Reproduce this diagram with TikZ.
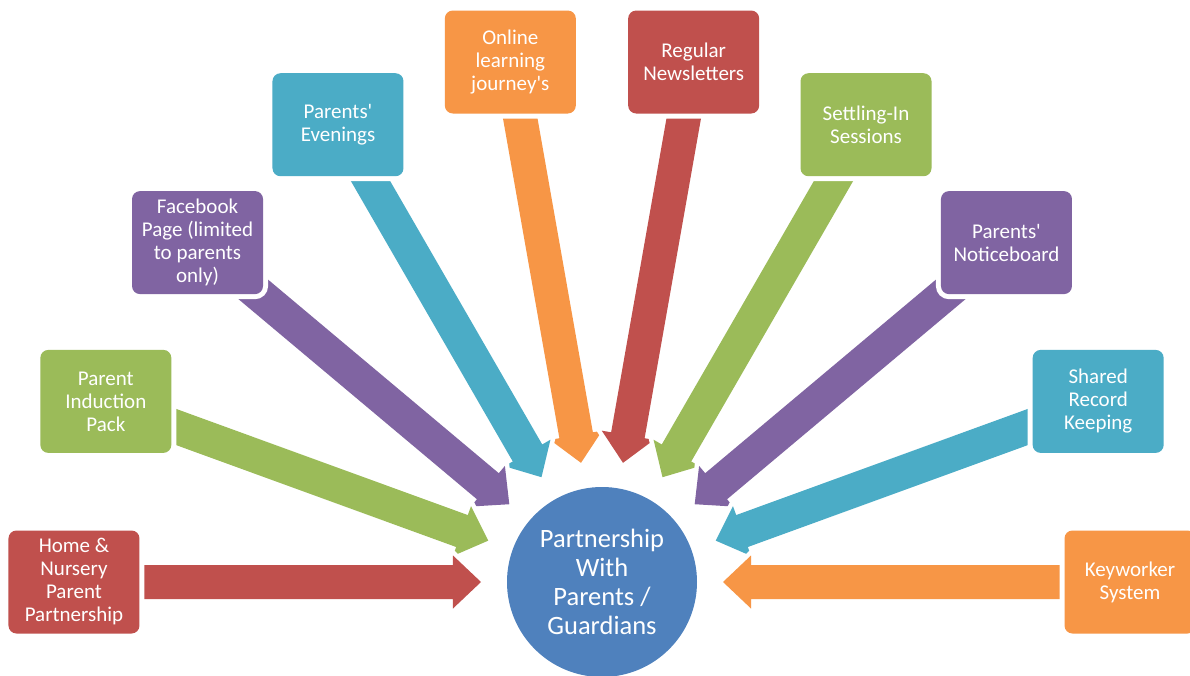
\documentclass[tikz,border=0pt]{standalone}
\usepackage{fontspec}
\setmainfont{Carlito}
\usetikzlibrary{calc,backgrounds}
\definecolor{cred}{HTML}{C0504D}
\definecolor{cgreen}{HTML}{9BBB59}
\definecolor{cpurple}{HTML}{8064A2}
\definecolor{cteal}{HTML}{4BACC6}
\definecolor{corange}{HTML}{F79646}
\definecolor{cblue}{HTML}{4F81BD}
\newcommand\blockarrow[2]{%
  \coordinate (T) at ($(cc.center)!121pt!(#1.center)$);
  \coordinate (H) at ($(cc.center)!149pt!(#1.center)$);
  \path[fill=#2, preaction={draw=white, line width=9pt}]
    (T) -- ($(H)!26.5pt!90:(T)$) -- ($(H)!17pt!90:(T)$)
    -- ($(#1.center)!17pt!90:(H)$) -- ($(#1.center)!17pt!-90:(H)$)
    -- ($(H)!17pt!-90:(T)$) -- ($(H)!26.5pt!-90:(T)$) -- cycle;
}
\begin{document}
\begin{tikzpicture}[x=1pt,y=1pt,
  box/.style={rounded corners=8pt, minimum width=131pt, minimum height=103pt,
    inner sep=0pt, align=center, text=white,
    font=\fontsize{21}{23}\selectfont, preaction={draw=white, line width=10pt}},
  hub/.style={circle, fill=cblue, minimum size=190pt, inner sep=0pt,
    text=white, align=center, font=\fontsize{26.5}{29}\selectfont}]
\useasboundingbox (-602,-93) rectangle (588,582);
\node[hub] (cc) at (0,0) {Partnership\\With\\Parents /\\Guardians};
\node[box, fill=cred]    (b180) at (180:528) {Home \&\\Nursery\\Parent\\Partnership};
\node[box, fill=cgreen]  (b160) at (160:528) {Parent\\Induction\\Pack};
\node[box, fill=cpurple] (b140) at (140:528) {Facebook\\Page (limited\\to parents\\only)};
\node[box, fill=cteal]   (b120) at (120:528) {Parents\textquotesingle\\Evenings};
\node[box, fill=corange] (b100) at (100:528) {Online\\learning\\journey\textquotesingle s};
\node[box, fill=cred]    (b80)  at (80:528)  {Regular\\Newsletters};
\node[box, fill=cgreen]  (b60)  at (60:528)  {Settling-In\\Sessions};
\node[box, fill=cpurple] (b40)  at (40:528)  {Parents\textquotesingle\\Noticeboard};
\node[box, fill=cteal]   (b20)  at (20:528)  {Shared\\Record\\Keeping};
\node[box, fill=corange] (b0)   at (0:528)   {Keyworker\\System};
\begin{pgfonlayer}{background}
\blockarrow{b100}{corange}
\blockarrow{b80}{cred}
\blockarrow{b120}{cteal}
\blockarrow{b60}{cgreen}
\blockarrow{b140}{cpurple}
\blockarrow{b40}{cpurple}
\blockarrow{b160}{cgreen}
\blockarrow{b20}{cteal}
\blockarrow{b180}{cred}
\blockarrow{b0}{corange}
\end{pgfonlayer}
\end{tikzpicture}
\end{document}
